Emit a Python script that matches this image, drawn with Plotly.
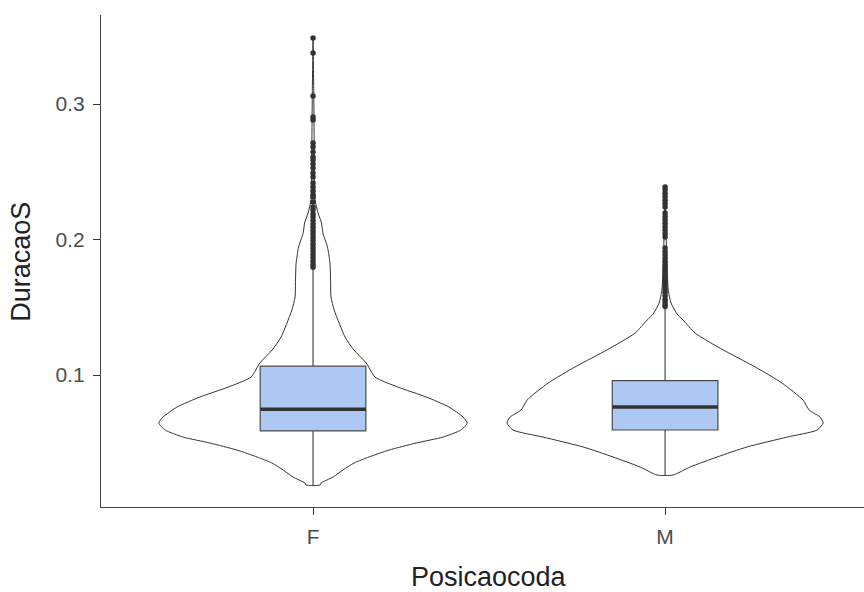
import plotly.graph_objects as go

# ---------------- data ----------------
categories = ["F", "M"]
cat_pos = [1, 2]

# violin outline: value levels and half-widths (in category units)
F_violin_y = [0.0188, 0.0203, 0.0247, 0.0299, 0.0351, 0.0395, 0.0446, 0.0498, 0.0542,
              0.0594, 0.0646, 0.0690, 0.0764, 0.0838, 0.0911, 0.0985, 0.1089, 0.1185,
              0.1280, 0.1384, 0.1480, 0.1576, 0.1679, 0.1827, 0.1945, 0.2048, 0.2122,
              0.2196, 0.2292, 0.2500, 0.2800, 0.3100, 0.3487]
F_violin_hw = [0.020, 0.023, 0.057, 0.085, 0.117, 0.159, 0.216, 0.293, 0.369,
               0.420, 0.438, 0.426, 0.386, 0.321, 0.241, 0.176, 0.151, 0.116,
               0.091, 0.074, 0.060, 0.051, 0.050, 0.048, 0.041, 0.028, 0.024,
               0.014, 0.006, 0.004, 0.003, 0.002, 0.0]

M_violin_y = [0.0262, 0.0321, 0.0395, 0.0469, 0.0542, 0.0594, 0.0646, 0.0690, 0.0742,
              0.0815, 0.0941, 0.1059, 0.1185, 0.1240, 0.1310, 0.1406, 0.1450, 0.1531,
              0.1627, 0.1923, 0.2387]
M_violin_hw = [0.023, 0.071, 0.148, 0.233, 0.347, 0.432, 0.449, 0.440, 0.409,
               0.392, 0.332, 0.256, 0.165, 0.128, 0.085, 0.051, 0.034, 0.017,
               0.009, 0.004, 0.0]

# box statistics
q1 = [0.0587, 0.0594]
median = [0.0747, 0.0764]
q3 = [0.1066, 0.0958]
lower_whisker = [0.0188, 0.0262]
upper_whisker = [0.1790, 0.1500]

# outliers
F_outliers = [0.3487, 0.3376, 0.3059, 0.2904, 0.2882, 0.2712, 0.2683, 0.2646, 0.2609,
              0.2587, 0.2557, 0.2528, 0.2491, 0.2461, 0.2417, 0.2387, 0.2358, 0.2328,
              0.2314, 0.2277, 0.2240, 0.2218, 0.2188, 0.2166, 0.2140, 0.2115, 0.2090,
              0.2065, 0.2040, 0.2015, 0.1990, 0.1965, 0.1940, 0.1915, 0.1890, 0.1865,
              0.1840, 0.1815, 0.1795]
M_outliers = [0.2387, 0.2365, 0.2340, 0.2315, 0.2290, 0.2265, 0.2240, 0.2196, 0.2170,
              0.2145, 0.2120, 0.2095, 0.2070, 0.2045, 0.2018, 0.1937, 0.1910, 0.1885,
              0.1860, 0.1835, 0.1810, 0.1785, 0.1760, 0.1735, 0.1710, 0.1685, 0.1660,
              0.1635, 0.1610, 0.1585, 0.1560, 0.1540, 0.1520, 0.1505]

y_ticks = [0.1, 0.2, 0.3]
y_tick_labels = ["0.1", "0.2", "0.3"]
x_title = "Posicaocoda"
y_title = "DuracaoS"

# ---------------- styles ----------------
BOX_WIDTH = 0.3
BOX_FILL = "#ADC8F2"
DARK = "#333333"
FONT = "Liberation Sans, Arial, sans-serif"

fig = go.Figure()

for i, c in enumerate(cat_pos):
    fig.add_trace(go.Box(x=[c], q1=[q1[i]], median=[median[i]], q3=[q3[i]],
                         lowerfence=[lower_whisker[i]], upperfence=[upper_whisker[i]],
                         orientation="v", width=BOX_WIDTH, whiskerwidth=0,
                         boxpoints=False, fillcolor=BOX_FILL,
                         line=dict(color="#4A4A4A", width=1.2),
                         hoverinfo="skip", showlegend=False))

# violin outlines (white fill = background, so outline only)
violins = [(cat_pos[0], F_violin_y, F_violin_hw), (cat_pos[1], M_violin_y, M_violin_hw)]
for c, vy, hw in violins:
    xs = [c + w for w in hw] + [c - w for w in reversed(hw)]
    ys = list(vy) + list(reversed(vy))
    xs.append(xs[0]); ys.append(ys[0])
    fig.add_trace(go.Scatter(x=xs, y=ys, mode="lines",
                             line=dict(color=DARK, width=1, shape="spline", smoothing=0.6),
                             hoverinfo="skip", showlegend=False))

# thick median lines
for c, m in zip(cat_pos, median):
    fig.add_trace(go.Scatter(x=[c - BOX_WIDTH / 2, c + BOX_WIDTH / 2], y=[m, m],
                             mode="lines", line=dict(color=DARK, width=3.5),
                             hoverinfo="skip", showlegend=False))

for c, outs in zip(cat_pos, [F_outliers, M_outliers]):
    fig.add_trace(go.Scatter(x=[c] * len(outs), y=outs, mode="markers",
                             marker=dict(color=DARK, size=5.5, symbol="circle"),
                             showlegend=False))

fig.update_layout(
    width=864, height=592,
    margin=dict(l=101, r=0, t=15, b=85),
    paper_bgcolor="white", plot_bgcolor="white",
    font=dict(family=FONT, color="#4D4D4D"),
    showlegend=False, boxmode="overlay",
    xaxis=dict(type="linear", range=[0.3977, 2.565], tickvals=cat_pos, ticktext=categories,
               showgrid=False, zeroline=False, showline=True, linecolor="#444444",
               linewidth=1.3, ticks="outside", ticklen=7, tickcolor=DARK,
               tickwidth=1.3, tickfont=dict(size=21, color="#4D4D4D"),
               ticklabelstandoff=4),
    yaxis=dict(range=[0.00258, 0.3657], tickvals=y_ticks, ticktext=y_tick_labels,
               showgrid=False, zeroline=False, showline=True, linecolor="#444444",
               linewidth=1.3, ticks="outside", ticklen=7, tickcolor=DARK,
               tickwidth=1.3, tickfont=dict(size=21, color="#4D4D4D"),
               ticklabelstandoff=4),
    annotations=[
        dict(text=x_title, xref="paper", yref="paper", x=0.5085, y=-0.142,
             xanchor="center", yanchor="middle", showarrow=False,
             font=dict(size=27, color="#222222", family=FONT)),
        dict(text=y_title, xref="paper", yref="paper", x=-0.105, y=0.498,
             xanchor="center", yanchor="middle", showarrow=False, textangle=-90,
             font=dict(size=27, color="#222222", family=FONT)),
    ],
)

fig.write_html("out.html")
